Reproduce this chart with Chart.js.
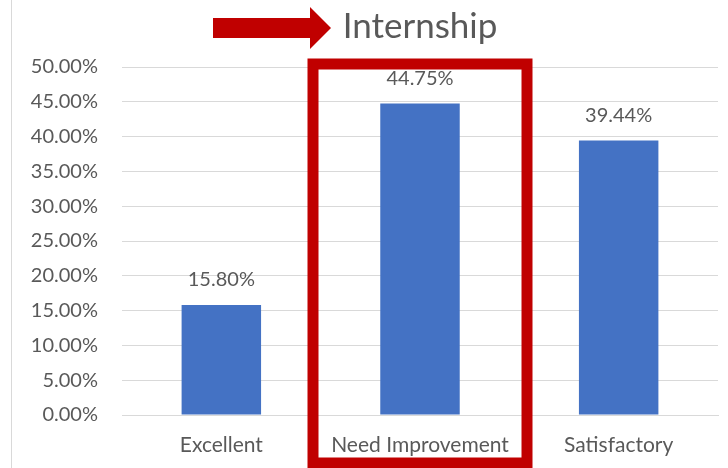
<!DOCTYPE html>
<html>
<head>
<meta charset="utf-8">
<title>Internship</title>
<script src="https://cdn.jsdelivr.net/npm/chart.js@4.4.0/dist/chart.umd.min.js"></script>
<style>
  html, body { margin: 0; padding: 0; background: #fff; }
  #wrap { width: 728px; height: 468px; }
</style>
</head>
<body>
<div id="wrap"><canvas id="chart" width="728" height="468"></canvas></div>
<script>
// data
const categories = ['Excellent', 'Need Improvement', 'Satisfactory']
const shares = [15.80, 44.75, 39.44]
const yMin = 0
const yMax = 50
const yStep = 5

const titleText = 'Internship'
const textGray = '#595959'
const gridGray = '#d9d9d9'
const barBlue = '#4472C4'
const markRed = '#C00000'

function pct(v){
    return v.toFixed(2) + '%'
}

// excel style extras: title over the plot, value labels, the red arrow + box
let extras = {
    id: 'extras',
    beforeDraw: function(chart){
        let ctx = chart.ctx
        ctx.save()
        ctx.strokeStyle = gridGray
        ctx.lineWidth = 1
        ctx.beginPath()
        ctx.moveTo(11.5, 0)
        ctx.lineTo(11.5, chart.height)
        ctx.stroke()
        ctx.restore()
    },
    afterDatasetsDraw: function(chart){
        let ctx = chart.ctx
        let meta = chart.getDatasetMeta(0)
        ctx.save()
        ctx.fillStyle = textGray
        ctx.font = '20px Lato'
        ctx.textAlign = 'center'
        ctx.textBaseline = 'middle'
        meta.data.forEach(function(bar, i){
            ctx.fillText(pct(shares[i]), bar.x, bar.y - 25)
        })
        ctx.restore()
    },
    afterDraw: function(chart){
        let ctx = chart.ctx
        let area = chart.chartArea
        let xs = chart.scales.x
        ctx.save()

        // title centred over the plot area
        ctx.fillStyle = textGray
        ctx.font = '35px Lato'
        ctx.textAlign = 'center'
        ctx.textBaseline = 'middle'
        ctx.fillText(titleText, (area.left + area.right) / 2, 27)

        // arrow pointing at the title
        ctx.fillStyle = markRed
        ctx.fillRect(213, 18, 98, 20)
        ctx.beginPath()
        ctx.moveTo(310, 7)
        ctx.lineTo(331, 28)
        ctx.lineTo(310, 49)
        ctx.closePath()
        ctx.fill()

        // box round the middle category
        let cx = xs.getPixelForValue(1)
        ctx.strokeStyle = markRed
        ctx.lineWidth = 11
        ctx.strokeRect(cx - 107, 64, 214, 399)
        ctx.restore()
    }
}

let ctx = document.getElementById('chart').getContext('2d')

var internshipChart = new Chart(ctx, {
    type: 'bar',
    data: {
        labels: categories,
        datasets: [
            {
                data: shares,
                backgroundColor: barBlue,
                borderWidth: 0,
                categoryPercentage: 1,
                barPercentage: 0.4
            }
        ]
    },
    options: {
        responsive: false,
        animation: false,
        layout: {
            padding: { top: 67, right: 10, bottom: 0, left: 0 }
        },
        plugins: {
            legend: { display: false },
            title: { display: false },
            tooltip: { enabled: false }
        },
        scales: {
            x: {
                grid: { display: false },
                border: { color: gridGray },
                ticks: {
                    color: textGray,
                    font: { family: 'Lato', size: 21 },
                    padding: 10
                },
                afterFit: function(s){ s.height = 53 }
            },
            y: {
                min: yMin,
                max: yMax,
                border: { display: false },
                grid: { color: gridGray, drawTicks: false },
                ticks: {
                    stepSize: yStep,
                    color: textGray,
                    font: { family: 'Lato', size: 20 },
                    padding: 24,
                    callback: function(v){ return pct(v) }
                },
                afterFit: function(s){ s.width = 122 }
            }
        }
    },
    plugins: [extras]
})
</script>
</body>
</html>
